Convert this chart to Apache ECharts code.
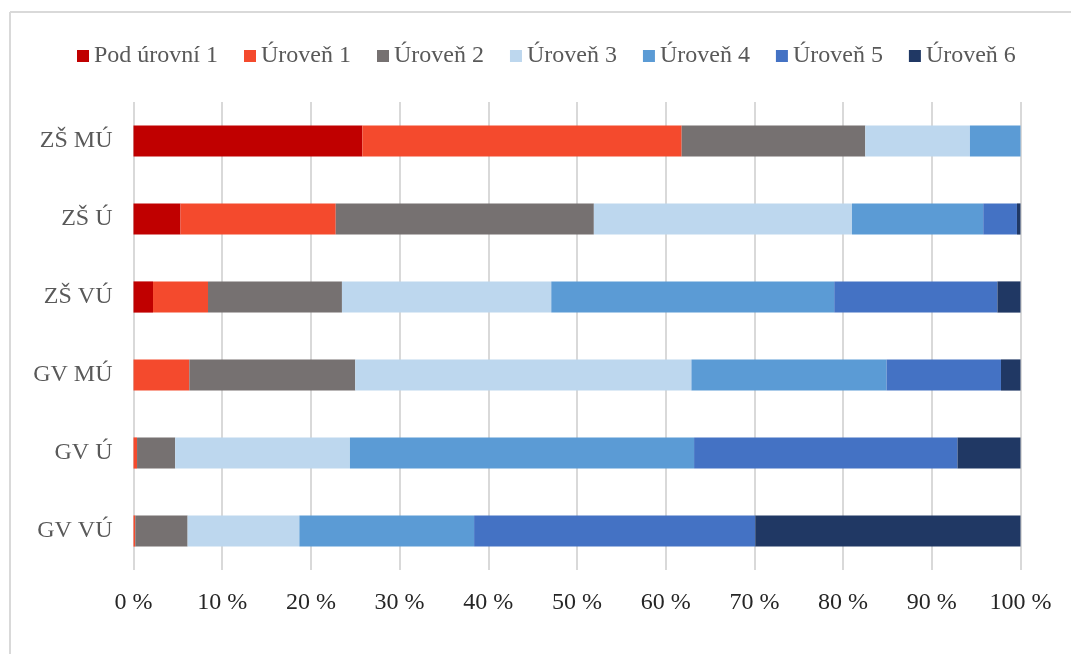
<!DOCTYPE html>
<html>
<head>
<meta charset="utf-8">
<script src="https://cdn.jsdelivr.net/npm/echarts@6/dist/echarts.min.js"></script>
<style>
html,body{margin:0;padding:0;background:#fff;}
#c{width:1071px;height:654px;}
</style>
</head>
<body>
<div id="c"></div>
<script>
const categories = ['ZŠ MÚ', 'ZŠ Ú', 'ZŠ VÚ', 'GV MÚ', 'GV Ú', 'GV VÚ'];
const seriesNames = ['Pod úrovní 1', 'Úroveň 1', 'Úroveň 2', 'Úroveň 3', 'Úroveň 4', 'Úroveň 5', 'Úroveň 6'];
const podUrovni1 = [25.8, 5.3, 2.2, 0, 0, 0];
const uroven1 = [36.0, 17.5, 6.2, 6.3, 0.4, 0.2];
const uroven2 = [20.7, 29.1, 15.1, 18.7, 4.3, 5.9];
const uroven3 = [11.8, 29.1, 23.6, 37.9, 19.7, 12.6];
const uroven4 = [5.7, 14.8, 31.9, 22.0, 38.8, 19.7];
const uroven5 = [0, 3.8, 18.4, 12.9, 29.7, 31.7];
const uroven6 = [0, 0.4, 2.6, 2.2, 7.1, 29.9];
const xTicks = [0, 10, 20, 30, 40, 50, 60, 70, 80, 90, 100];

const colors = ['#C00000', '#F44A2D', '#767171', '#BDD7EE', '#5B9BD5', '#4472C4', '#203864'];
const dataSets = [podUrovni1, uroven1, uroven2, uroven3, uroven4, uroven5, uroven6];

const chart = echarts.init(document.getElementById('c'));
const font = 'Liberation Serif, Times New Roman, serif';
chart.setOption({
  animation: false,
  color: colors,
  textStyle: {fontFamily: font},
  graphic: [
    {type: 'line', shape: {x1: 10, y1: 12, x2: 10, y2: 654}, style: {stroke: '#d9d9d9', lineWidth: 2}},
    {type: 'line', shape: {x1: 10, y1: 12, x2: 1071, y2: 12}, style: {stroke: '#d9d9d9', lineWidth: 2}}
  ],
  legend: {
    top: 39,
    left: 72,
    icon: 'rect',
    itemWidth: 12,
    itemHeight: 12,
    itemGap: 26,
    textStyle: {fontFamily: font, fontSize: 24, color: '#595959'},
    data: seriesNames
  },
  grid: {left: 133.5, right: 50.5, top: 102, bottom: 84, containLabel: false},
  xAxis: {
    type: 'value',
    min: 0, max: 100, interval: 10,
    axisLine: {show: false},
    axisTick: {show: false},
    splitLine: {show: true, lineStyle: {color: '#d9d9d9', width: 2}},
    axisLabel: {
      fontFamily: font, fontSize: 24, color: '#262626', margin: 21,
      formatter: v => xTicks.includes(v) ? v + ' %' : ''
    }
  },
  yAxis: {
    type: 'category',
    inverse: true,
    data: categories,
    axisLine: {show: false},
    axisTick: {show: false},
    axisLabel: {fontFamily: font, fontSize: 24, color: '#595959', margin: 21}
  },
  series: seriesNames.map((name, i) => ({
    name: name,
    type: 'bar',
    stack: 'total',
    barWidth: '40%',
    data: dataSets[i],
    itemStyle: {color: colors[i]}
  }))
});
</script>
</body>
</html>
